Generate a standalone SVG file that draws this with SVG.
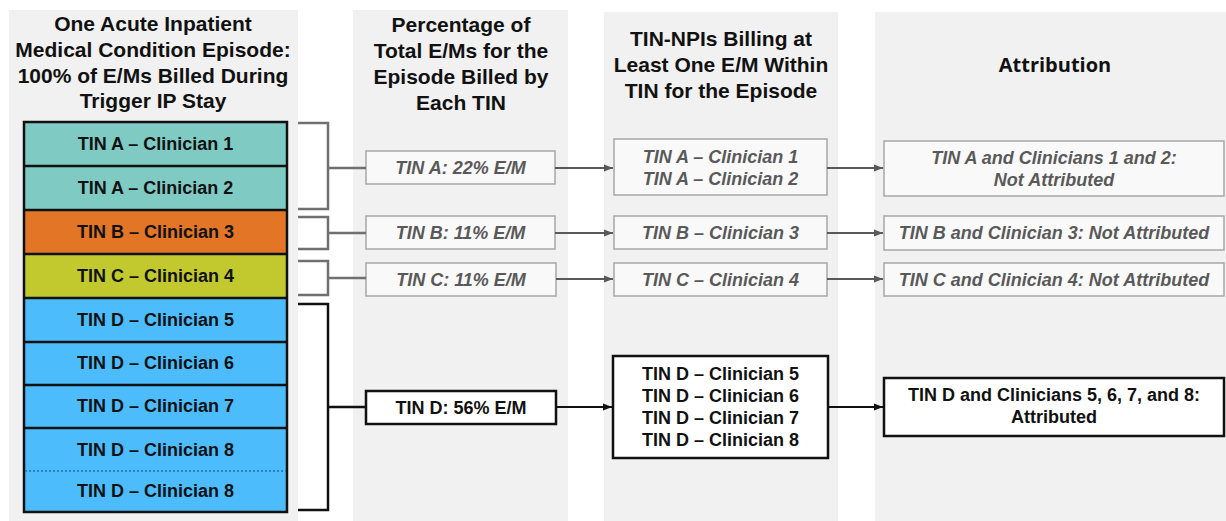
<svg xmlns="http://www.w3.org/2000/svg" width="1226" height="521" viewBox="0 0 1226 521">
<style>
.bg{fill:#f1f1f1}
.hd{font-family:"Liberation Sans",Arial,sans-serif;font-weight:bold;font-size:21px;fill:#111;text-anchor:middle}
.hd2{font-family:"Open Sans","Liberation Sans",sans-serif;font-weight:bold;font-size:20px;fill:#111;text-anchor:middle}
.row{font-family:"Liberation Sans",Arial,sans-serif;font-weight:bold;font-size:18px;fill:#111;text-anchor:middle}
.gt{font-family:"Liberation Sans",Arial,sans-serif;font-weight:bold;font-style:italic;font-size:18px;fill:#595959;text-anchor:middle}
.bt{font-family:"Liberation Sans",Arial,sans-serif;font-weight:bold;font-size:18px;fill:#111;text-anchor:middle}
.gbox{fill:#f9f9f9;stroke:#a6a6a6;stroke-width:1.5}
.bbox{fill:#ffffff;stroke:#111;stroke-width:2.5}
.gline{fill:none;stroke:#707070;stroke-width:2.5}
.bline{fill:none;stroke:#111;stroke-width:2.5}
.garr{fill:none;stroke:#595959;stroke-width:2.2}
.barr{fill:none;stroke:#111;stroke-width:2.2}
</style>
<defs>
<marker id="ga" markerUnits="userSpaceOnUse" markerWidth="10" markerHeight="10" refX="9" refY="5" orient="auto"><path d="M0,1.5 L9,5 L0,8.5 Z" fill="#595959"/></marker>
<marker id="ba" markerUnits="userSpaceOnUse" markerWidth="10" markerHeight="10" refX="9" refY="5" orient="auto"><path d="M0,1.5 L9,5 L0,8.5 Z" fill="#111"/></marker>
</defs>
<rect width="1226" height="521" fill="#ffffff"/>
<g id="columns">
<rect class="bg" x="9" y="10" width="289" height="511"/>
<rect class="bg" x="353" y="10" width="215" height="511"/>
<rect class="bg" x="604" y="12" width="234" height="509"/>
<rect class="bg" x="875" y="12" width="351" height="509"/>
</g>
<g id="headers">
<text class="hd" x="153" y="31">One Acute Inpatient</text>
<text class="hd" x="153" y="57">Medical Condition Episode:</text>
<text class="hd" x="153" y="83">100% of E/Ms Billed During</text>
<text class="hd" x="153" y="108">Trigger IP Stay</text>
<text class="hd" x="461" y="32">Percentage of</text>
<text class="hd" x="461" y="58">Total E/Ms for the</text>
<text class="hd" x="461" y="84">Episode Billed by</text>
<text class="hd" x="461" y="110">Each TIN</text>
<text class="hd" x="721" y="46">TIN-NPIs Billing at</text>
<text class="hd" x="721" y="72">Least One E/M Within</text>
<text class="hd" x="721" y="98">TIN for the Episode</text>
<text class="hd2" x="1055" y="72">Attribution</text>
</g>
<g id="r1"><rect x="24" y="122" width="263" height="44" fill="#7fcbc4"/><text class="row" x="155.5" y="150">TIN A – Clinician 1</text></g>
<g id="r2"><rect x="24" y="166" width="263" height="44" fill="#7fcbc4"/><text class="row" x="155.5" y="194">TIN A – Clinician 2</text></g>
<g id="r3"><rect x="24" y="210" width="263" height="44" fill="#e27526"/><text class="row" x="155.5" y="238">TIN B – Clinician 3</text></g>
<g id="r4"><rect x="24" y="254" width="263" height="44" fill="#c1c92f"/><text class="row" x="155.5" y="282">TIN C – Clinician 4</text></g>
<g id="r5"><rect x="24" y="298" width="263" height="44" fill="#4cbcfd"/><text class="row" x="155.5" y="326">TIN D – Clinician 5</text></g>
<g id="r6"><rect x="24" y="342" width="263" height="43" fill="#4cbcfd"/><text class="row" x="155.5" y="369">TIN D – Clinician 6</text></g>
<g id="r7"><rect x="24" y="385" width="263" height="43" fill="#4cbcfd"/><text class="row" x="155.5" y="412">TIN D – Clinician 7</text></g>
<g id="r8a"><rect x="24" y="428" width="263" height="43" fill="#4cbcfd"/><text class="row" x="155.5" y="456">TIN D – Clinician 8</text></g>
<g id="r8b"><rect x="24" y="471" width="263" height="41" fill="#4cbcfd"/><text class="row" x="155.5" y="497">TIN D – Clinician 8</text></g>
<g id="stack-lines">
<rect x="24" y="122" width="263" height="390" fill="none" stroke="#111" stroke-width="2.5"/>
<path d="M24,166H287M24,210H287M24,254H287M24,298H287M24,342H287M24,385H287M24,428H287" stroke="#111" stroke-width="2.5" fill="none"/>
<path d="M25,471H286" stroke="#1f6fa8" stroke-width="1.5" stroke-dasharray="2,2" fill="none"/>
</g>
<g id="pA"><rect class="gbox" x="366" y="151" width="189" height="33"/><text class="gt" x="460.5" y="174">TIN A: 22% E/M</text></g>
<g id="pB"><rect class="gbox" x="366" y="216" width="189" height="33"/><text class="gt" x="460.5" y="239">TIN B: 11% E/M</text></g>
<g id="pC"><rect class="gbox" x="366" y="263" width="190" height="33"/><text class="gt" x="461" y="286">TIN C: 11% E/M</text></g>
<g id="pD"><rect class="bbox" x="366" y="391" width="190" height="33"/><text class="bt" x="461" y="414">TIN D: 56% E/M</text></g>
<g id="nA"><rect class="gbox" x="614" y="139" width="213" height="56"/><text class="gt" x="720.5" y="163">TIN A – Clinician 1</text><text class="gt" x="720.5" y="185">TIN A – Clinician 2</text></g>
<g id="nB"><rect class="gbox" x="614" y="216" width="213" height="33"/><text class="gt" x="720.5" y="239">TIN B – Clinician 3</text></g>
<g id="nC"><rect class="gbox" x="614" y="263" width="213" height="33"/><text class="gt" x="720.5" y="286">TIN C – Clinician 4</text></g>
<g id="nD"><rect class="bbox" x="613" y="356" width="215" height="102"/><text class="bt" x="720.5" y="380">TIN D – Clinician 5</text><text class="bt" x="720.5" y="402">TIN D – Clinician 6</text><text class="bt" x="720.5" y="424">TIN D – Clinician 7</text><text class="bt" x="720.5" y="446">TIN D – Clinician 8</text></g>
<g id="aA"><rect class="gbox" x="884" y="141" width="340" height="55"/><text class="gt" x="1054" y="164">TIN A and Clinicians 1 and 2:</text><text class="gt" x="1054" y="186">Not Attributed</text></g>
<g id="aB"><rect class="gbox" x="884" y="216" width="340" height="34"/><text class="gt" x="1054" y="239">TIN B and Clinician 3: Not Attributed</text></g>
<g id="aC"><rect class="gbox" x="884" y="263" width="340" height="33"/><text class="gt" x="1054" y="286">TIN C and Clinician 4: Not Attributed</text></g>
<g id="aD"><rect class="bbox" x="884" y="378" width="340" height="58"/><text class="bt" x="1054" y="401">TIN D and Clinicians 5, 6, 7, and 8:</text><text class="bt" x="1054" y="423">Attributed</text></g>
<g id="connectors">
<path class="gline" d="M298,123H328V209H298M328,168H366"/>
<path class="gline" d="M298,217H328V249H298M328,233H366"/>
<path class="gline" d="M298,261H328V295H298M328,278H366"/>
<path class="bline" d="M298,304H328V510H298M328,407H366"/>
<path class="garr" d="M555,168H613" marker-end="url(#ga)"/>
<path class="garr" d="M555,233H613" marker-end="url(#ga)"/>
<path class="garr" d="M556,279H613" marker-end="url(#ga)"/>
<path class="barr" d="M556,407H612" marker-end="url(#ba)"/>
<path class="garr" d="M827,168H883" marker-end="url(#ga)"/>
<path class="garr" d="M827,233H883" marker-end="url(#ga)"/>
<path class="garr" d="M827,279H883" marker-end="url(#ga)"/>
<path class="barr" d="M828,407H883" marker-end="url(#ba)"/>
</g>
</svg>
